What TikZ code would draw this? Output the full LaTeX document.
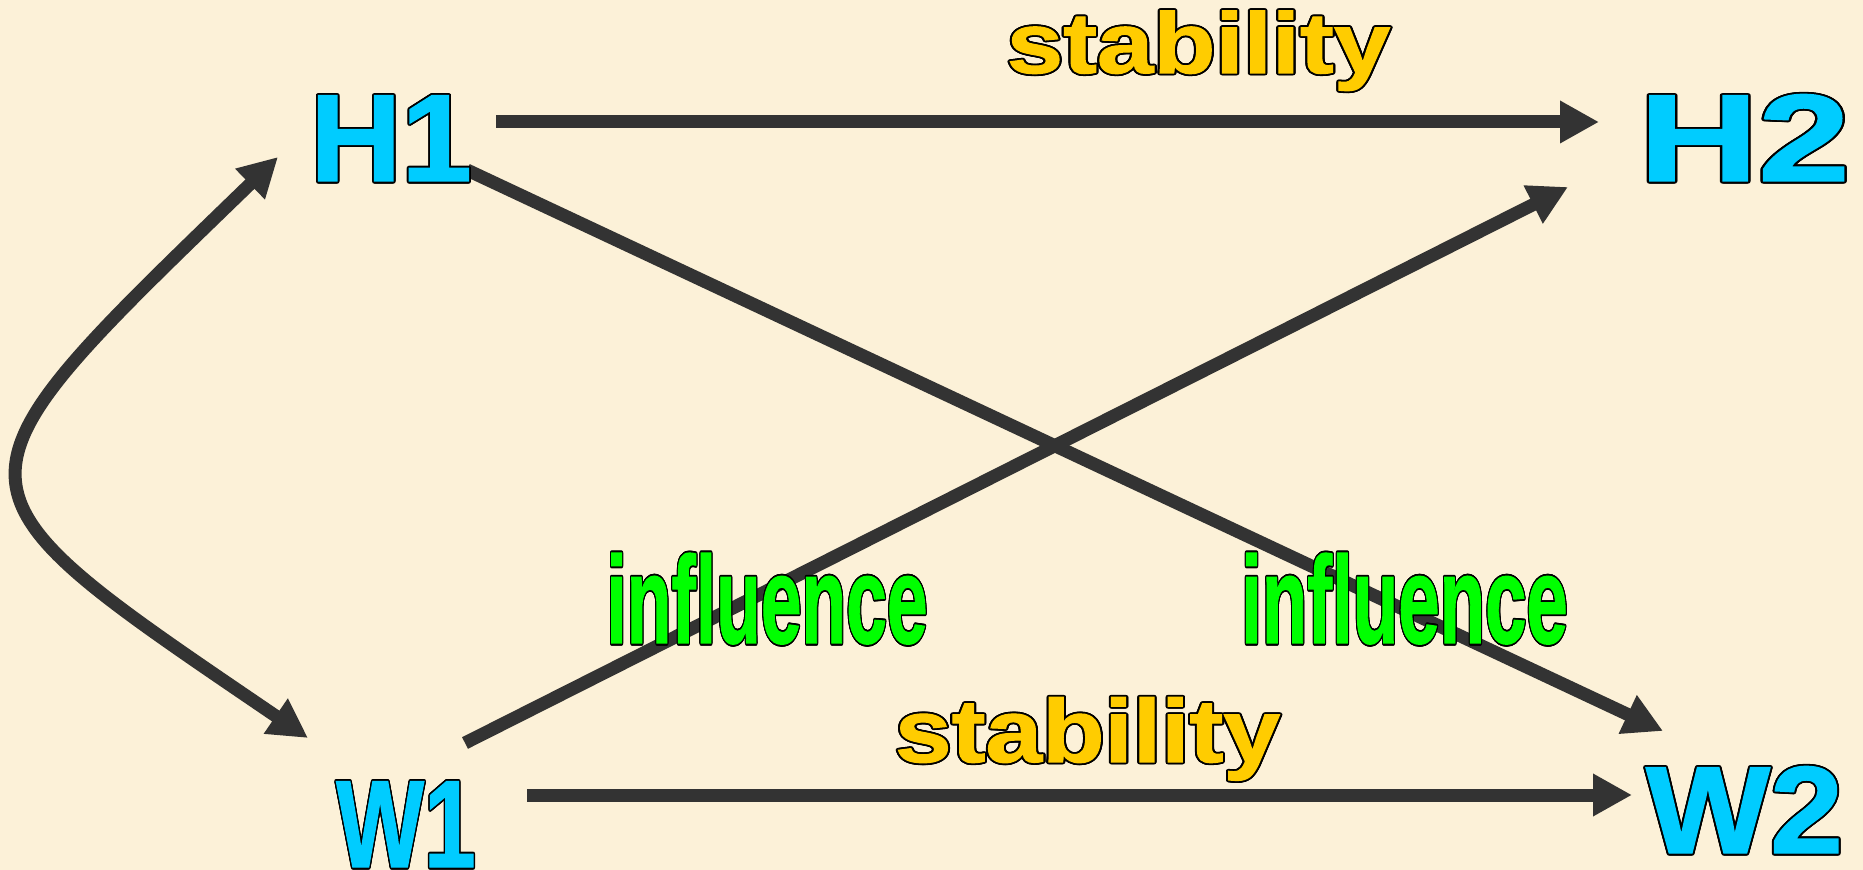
\documentclass[tikz,border=0pt]{standalone}
\usepackage{fontspec}
\setmainfont{Liberation Sans}
\newfontfamily\heavyfont[FakeBold=1.2]{Liberation Sans Bold}
\usepackage{contour}
\contourlength{0.9pt}
\usetikzlibrary{arrows.meta}
\definecolor{bgc}{RGB}{252,241,216}
\definecolor{arr}{RGB}{51,51,51}
\definecolor{varc}{RGB}{0,204,255}
\definecolor{stabc}{RGB}{255,204,0}
\definecolor{inflc}{RGB}{0,255,0}
\newcommand{\olt}[3]{\scalebox{#1}[1]{\textcolor{#2}{\contour{black}{#3}}}}
\tikzset{
  txt/.style={inner sep=0pt, outer sep=0pt, anchor=base},
  varfont/.style={txt, font=\fontsize{62}{62}\heavyfont},
  inflfont/.style={txt, font=\fontsize{62}{62}\heavyfont},
  conn/.style={line width=6.5pt, draw=arr, -{Triangle[length=19.5pt,width=20pt]}},
  dconn/.style={line width=6.5pt, draw=arr, {Triangle[length=19.5pt,width=20pt]}-{Triangle[length=19.5pt,width=20pt]}}
}
\begin{document}
\begin{tikzpicture}[x=0.5pt,y=-0.5pt]
\fill[bgc] (0,0) rectangle (1863,870);
\useasboundingbox (0,0) rectangle (1863,870);
% connector end points
\coordinate (h1out) at (496,122);
\coordinate (h2in) at (1599,122);
\coordinate (w1out) at (527,795);
\coordinate (w2in) at (1632,795);
\coordinate (h1x) at (467,170);
\coordinate (w2x) at (1663,731);
\coordinate (w1x) at (465,743);
\coordinate (h2x) at (1568,187);
\coordinate (h1c) at (278,157);
\coordinate (w1c) at (308,738);
% connectors
\draw[conn] (h1out) -- (h2in);
\draw[conn] (w1out) -- (w2in);
\draw[conn] (h1x) -- (w2x);
\draw[conn] (w1x) -- (h2x);
\draw[dconn] (h1c) .. controls (-68,492) and (-68,482) .. (w1c);
% texts
\node[varfont] (H1) at (391,181) {\olt{1.02}{varc}{H1}};
\node[varfont] (H2) at (1744.5,181) {\olt{1.33}{varc}{H2}};
\node[varfont] (W1) at (406,867) {\olt{0.75}{varc}{W1}};
\node[varfont] (W2) at (1744.5,853) {\olt{1.06}{varc}{W2}};
\node[txt, font=\fontsize{43}{43}\heavyfont] (s1) at (1198.5,73) {\olt{1.18}{stabc}{stability}};
\node[txt, font=\fontsize{44.7}{44.7}\heavyfont] (s2) at (1087.5,762) {\olt{1.14}{stabc}{stability}};
\node[inflfont] (i1) at (767,643) {\olt{0.59}{inflc}{influence}};
\node[inflfont] (i2) at (1404.5,643) {\olt{0.6}{inflc}{influence}};
\end{tikzpicture}
\end{document}
